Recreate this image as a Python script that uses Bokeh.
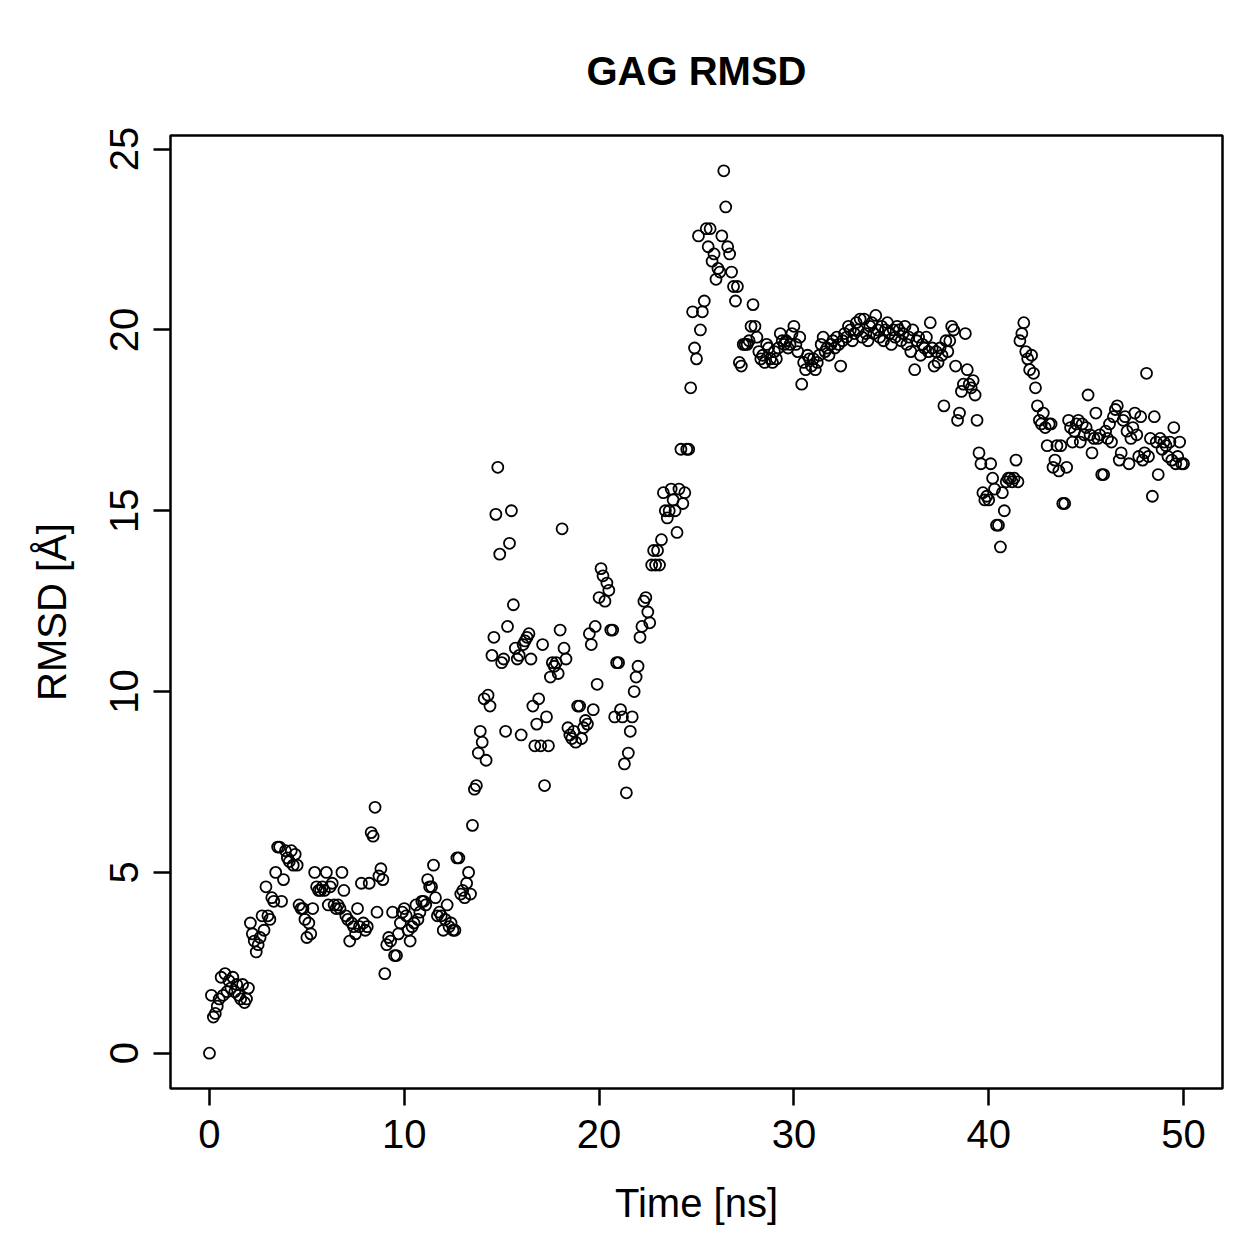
from bokeh.plotting import figure
from bokeh.models import Range1d, FixedTicker
from bokeh.embed import file_html
from bokeh.resources import INLINE

# RMSD values [Å], one sample every 0.1 ns, rows of 1 ns each
rmsd = [
    0.0, 1.6, 1.0, 1.1, 1.3, 1.5, 2.1, 1.6, 2.2, 1.7,
    2.0, 1.8, 2.1, 1.7, 1.9, 1.6, 1.5, 1.9, 1.4, 1.5,
    1.8, 3.6, 3.3, 3.1, 2.8, 3.0, 3.2, 3.8, 3.4, 4.6,
    3.8, 3.7, 4.3, 4.2, 5.0, 5.7, 5.7, 4.2, 4.8, 5.6,
    5.4, 5.3, 5.6, 5.2, 5.5, 5.2, 4.1, 4.0, 4.0, 3.7,
    3.2, 3.6, 3.3, 4.0, 5.0, 4.6, 4.5, 4.5, 4.6, 4.5,
    5.0, 4.1, 4.6, 4.7, 4.1, 4.0, 4.1, 4.0, 5.0, 4.5,
    3.8, 3.7, 3.1, 3.6, 3.5, 3.3, 4.0, 3.5, 4.7, 3.6,
    3.4, 3.5, 4.7, 6.1, 6.0, 6.8, 3.9, 4.9, 5.1, 4.8,
    2.2, 3.0, 3.2, 3.1, 3.9, 2.7, 2.7, 3.3, 3.6, 3.9,
    4.0, 3.8, 3.4, 3.1, 3.5, 3.6, 4.1, 3.7, 3.9, 4.2,
    4.2, 4.1, 4.8, 4.6, 4.6, 5.2, 4.3, 3.8, 3.9, 3.8,
    3.4, 3.7, 4.1, 3.5, 3.6, 3.4, 3.4, 5.4, 5.4, 4.4,
    4.5, 4.3, 4.7, 5.0, 4.4, 6.3, 7.3, 7.4, 8.3, 8.9,
    8.6, 9.8, 8.1, 9.9, 9.6, 11.0, 11.5, 14.9, 16.2, 13.8,
    10.8, 10.9, 8.9, 11.8, 14.1, 15.0, 12.4, 11.2, 10.9, 11.0,
    8.8, 11.3, 11.4, 11.5, 11.6, 10.9, 9.6, 8.5, 9.1, 9.8,
    8.5, 11.3, 7.4, 9.3, 8.5, 10.4, 10.8, 10.7, 10.8, 10.5,
    11.7, 14.5, 11.2, 10.9, 9.0, 8.8, 8.7, 8.9, 8.6, 9.6,
    9.6, 8.7, 9.0, 9.2, 9.1, 11.6, 11.3, 9.5, 11.8, 10.2,
    12.6, 13.4, 13.2, 12.5, 13.0, 12.8, 11.7, 11.7, 9.3, 10.8,
    10.8, 9.5, 9.3, 8.0, 7.2, 8.3, 8.9, 9.3, 10.0, 10.4,
    10.7, 11.5, 11.8, 12.5, 12.6, 12.2, 11.9, 13.5, 13.9, 13.5,
    13.9, 13.5, 14.2, 15.5, 15.0, 14.8, 15.0, 15.6, 15.3, 15.0,
    14.4, 15.6, 16.7, 15.2, 15.5, 16.7, 16.7, 18.4, 20.5, 19.5,
    19.2, 22.6, 20.0, 20.5, 20.8, 22.8, 22.3, 22.8, 21.9, 22.1,
    21.4, 21.7, 21.6, 22.6, 24.4, 23.4, 22.3, 22.1, 21.6, 21.2,
    20.8, 21.2, 19.1, 19.0, 19.6, 19.6, 19.6, 19.7, 20.1, 20.7,
    20.1, 19.8, 19.4, 19.2, 19.3, 19.1, 19.6, 19.5, 19.2, 19.1,
    19.4, 19.2, 19.5, 19.9, 19.7, 19.6, 19.7, 19.5, 19.6, 19.9,
    20.1, 19.6, 19.4, 19.8, 18.5, 19.1, 18.9, 19.3, 19.2, 19.0,
    19.2, 18.9, 19.1, 19.3, 19.6, 19.8, 19.4, 19.5, 19.3, 19.6,
    19.7, 19.5, 19.8, 19.6, 19.0, 19.7, 19.9, 19.8, 20.1, 20.0,
    19.7, 19.9, 20.2, 20.0, 20.3, 19.8, 20.3, 19.9, 19.7, 20.1,
    20.2, 19.9, 20.4, 20.0, 19.8, 20.1, 19.7, 20.0, 20.2, 19.9,
    19.6, 20.0, 19.8, 20.1, 20.0, 19.7, 19.9, 20.1, 19.6, 19.8,
    19.4, 20.0, 18.9, 19.7, 19.8, 19.3, 19.6, 19.5, 19.8, 19.4,
    20.2, 19.5, 19.0, 19.4, 19.1, 19.5, 19.3, 17.9, 19.7, 19.4,
    19.7, 20.1, 20.0, 19.0, 17.5, 17.7, 18.3, 18.5, 19.9, 18.9,
    18.5, 18.4, 18.6, 18.2, 17.5, 16.6, 16.3, 15.5, 15.3, 15.4,
    15.3, 16.3, 15.9, 15.6, 14.6, 14.6, 14.0, 15.5, 15.0, 15.8,
    15.9, 15.9, 15.8, 15.9, 16.4, 15.8, 19.7, 19.9, 20.2, 19.4,
    19.2, 18.9, 19.3, 18.8, 18.4, 17.9, 17.5, 17.4, 17.7, 17.3,
    16.8, 17.4, 17.4, 16.2, 16.4, 16.8, 16.1, 16.8, 15.2, 15.2,
    16.2, 17.5, 17.3, 16.9, 17.2, 17.4, 17.5, 16.9, 17.4, 17.1,
    17.3, 18.2, 17.1, 16.6, 17.0, 17.7, 17.0, 17.1, 16.0, 16.0,
    17.2, 17.0, 17.4, 16.9, 17.6, 17.8, 17.9, 16.4, 16.6, 17.5,
    17.6, 17.2, 16.3, 17.0, 17.3, 17.7, 17.1, 16.5, 17.6, 16.4,
    16.6, 18.8, 16.5, 17.0, 15.4, 17.6, 16.9, 16.0, 17.0, 16.7,
    16.9, 16.8, 16.5, 16.9, 16.4, 17.3, 16.3, 16.5, 16.9, 16.3,
    16.3,
]
time_ns = [round(i * 0.1, 1) for i in range(len(rmsd))]

x_ticks = [0, 10, 20, 30, 40, 50]
y_ticks = [0, 5, 10, 15, 20, 25]

FONT = "Liberation Sans"

p = figure(width=1259, height=1259, output_backend="svg", toolbar_location=None,
           x_range=Range1d(-2, 52), y_range=Range1d(-0.976, 25.376),
           min_border_left=170, min_border_right=37, min_border_top=135, min_border_bottom=171)

p.scatter(time_ns, rmsd, marker="circle", size=11, fill_color=None,
          line_color="black", line_width=1.8)

p.grid.visible = False
p.background_fill_color = "white"
p.border_fill_color = "white"
p.outline_line_color = "black"
p.outline_line_width = 2.5

p.title.text = "GAG RMSD"
p.title.align = "center"
p.title.text_font = FONT
p.title.text_font_size = "40px"
p.title.text_font_style = "bold"
p.title.text_color = "black"
p.title.standoff = 86

for ax, ticks, lab in ((p.xaxis[0], x_ticks, "Time [ns]"), (p.yaxis[0], y_ticks, "RMSD [Å]")):
    ax.ticker = FixedTicker(ticks=ticks)
    ax.axis_label = lab
    ax.axis_line_color = None
    ax.major_tick_line_color = "black"
    ax.major_tick_line_width = 2.5
    ax.major_tick_out = 17
    ax.major_tick_in = 0
    ax.minor_tick_line_color = None
    ax.major_label_text_font = FONT
    ax.major_label_text_font_size = "40px"
    ax.major_label_text_color = "black"
    ax.axis_label_text_font = FONT
    ax.axis_label_text_font_size = "40px"
    ax.axis_label_text_font_style = "normal"
    ax.axis_label_text_color = "black"

p.xaxis[0].major_label_standoff = 14
p.xaxis[0].axis_label_standoff = 30
p.yaxis[0].major_label_orientation = "vertical"
p.yaxis[0].major_label_standoff = 15
p.yaxis[0].axis_label_standoff = 34

open("out.html", "w").write(file_html(p, INLINE))
